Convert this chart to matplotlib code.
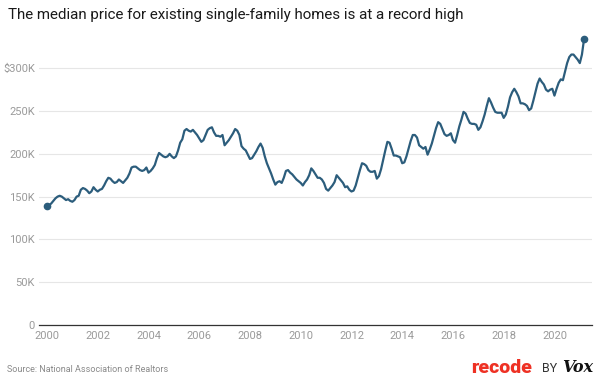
import numpy as np
import matplotlib
matplotlib.use("Agg")
import matplotlib.pyplot as plt

# Median sales price, existing single-family homes, monthly (thousands of $)
# Jan 2000 .. Mar 2021, one row per year
median_price_k = [
    139, 140, 142, 145, 148, 150, 151, 150, 148, 146, 147, 145,  # 2000
    144, 146, 150, 151, 158, 160, 159, 157, 154, 156, 161, 158,  # 2001
    156, 158, 159, 163, 168, 172, 171, 168, 166, 167, 170, 168,  # 2002
    166, 169, 172, 177, 184, 185, 185, 183, 181, 180, 181, 184,  # 2003
    178, 180, 183, 187, 195, 201, 199, 197, 196, 197, 200, 197,  # 2004
    195, 197, 204, 213, 217, 227, 229, 227, 226, 228, 225, 222,  # 2005
    218, 214, 216, 222, 228, 230, 231, 225, 221, 221, 220, 222,  # 2006
    210, 213, 216, 220, 224, 229, 227, 222, 209, 206, 204, 199,  # 2007
    194, 195, 199, 203, 208, 212, 207, 197, 189, 183, 177, 170,  # 2008
    164, 167, 168, 166, 172, 180, 181, 178, 176, 173, 170, 168,  # 2009
    166, 163, 167, 170, 175, 183, 180, 176, 172, 172, 170, 166,  # 2010
    159, 157, 160, 163, 167, 175, 172, 169, 166, 161, 162, 158,  # 2011
    156, 157, 163, 172, 181, 189, 188, 186, 181, 179, 179, 180,  # 2012
    171, 174, 182, 193, 204, 214, 213, 206, 198, 198, 197, 196,  # 2013
    189, 190, 197, 206, 215, 222, 222, 219, 210, 208, 206, 208,  # 2014
    199, 205, 212, 221, 230, 237, 235, 229, 223, 221, 222, 224,  # 2015
    216, 213, 222, 232, 240, 249, 247, 241, 236, 235, 235, 234,  # 2016
    228, 231, 238, 246, 256, 265, 260, 254, 249, 248, 248, 248,  # 2017
    242, 246, 255, 266, 272, 276, 272, 267, 259, 259, 258, 256,  # 2018
    251, 253, 262, 272, 282, 288, 284, 281, 275, 273, 275, 276,  # 2019
    268, 276, 283, 287, 286, 296, 306, 313, 316, 316, 313, 310,  # 2020
    306, 316, 334,                                               # 2021
]
start_year = 2000

x_tick_years = [2000, 2002, 2004, 2006, 2008, 2010, 2012, 2014, 2016, 2018, 2020]
y_ticks_k = [0, 50, 100, 150, 200, 250, 300]
y_tick_labels = ["0", "50K", "100K", "150K", "200K", "250K", "$300K"]

title = "The median price for existing single-family homes is at a record high"
source = "Source: National Association of Realtors"

line_color = "#2c5d7c"
grid_color = "#e6e6e6"
tick_color = "#9a9a9a"

plt.rcParams["font.family"] = ["Roboto", "DejaVu Sans"]

W, H = 600, 384
fig = plt.figure(figsize=(W / 100, H / 100), dpi=100)
fig.patch.set_facecolor("white")

# axes placed in pixel terms
ax_left, ax_right, ax_bottom, ax_top = 39, 592, 325, 34
ax = fig.add_axes([ax_left / W, 1 - ax_bottom / H,
                   (ax_right - ax_left) / W, (ax_bottom - ax_top) / H])

prices = np.array(median_price_k, dtype=float)
t = start_year + np.arange(len(prices)) / 12.0

ax.plot(t, prices, color=line_color, lw=1.6, solid_joinstyle="round", zorder=3)
ax.plot([t[0], t[-1]], [prices[0], prices[-1]], "o", color=line_color,
        ms=4.5, zorder=4)

ax.set_xlim(1999.685, 2021.48)
ax.set_ylim(0, 340)

ax.set_yticks(y_ticks_k)
ax.set_yticklabels(y_tick_labels)
ax.set_xticks(x_tick_years)
ax.set_xticklabels([str(y) for y in x_tick_years])

ax.grid(axis="y", color=grid_color, lw=0.8, zorder=0)
ax.grid(axis="x", visible=False)
for side in ["top", "right", "left"]:
    ax.spines[side].set_visible(False)
ax.spines["bottom"].set_color("#333333")
ax.spines["bottom"].set_linewidth(0.9)

ax.tick_params(axis="both", length=0, labelsize=8, labelcolor=tick_color)
ax.tick_params(axis="y", pad=3)
ax.tick_params(axis="x", pad=4)

fig.text(8 / W, 1 - 15 / H, title, fontsize=10.9, color="#1a1a1a",
         va="center", ha="left")
fig.text(7 / W, 1 - 369 / H, source, fontsize=6.5, color="#8a8a8a",
         va="center", ha="left")

# logo
fig.text(532 / W, 1 - 368 / H, "recode", fontsize=14, fontweight="black",
         color="#ee3124", va="center", ha="right")
fig.text(550 / W, 1 - 369 / H, "BY", fontsize=9, color="#333333",
         va="center", ha="center")
fig.text(593 / W, 1 - 367 / H, "Vox", fontsize=11.5, fontweight="bold",
         fontstyle="italic", family="DejaVu Serif", color="#111111",
         va="center", ha="right")

fig.savefig("out.png", dpi=100, facecolor="white")
